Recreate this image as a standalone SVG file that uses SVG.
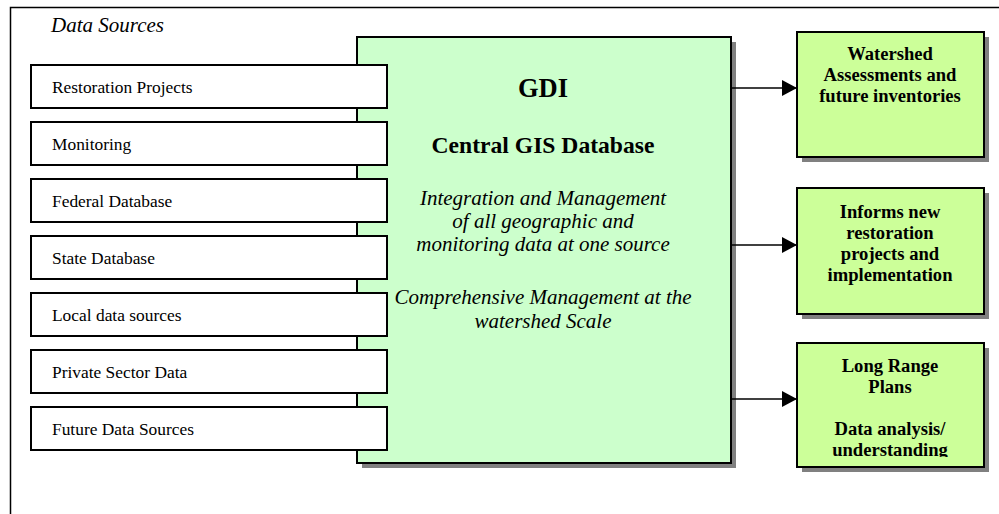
<svg xmlns="http://www.w3.org/2000/svg" width="999" height="514" viewBox="0 0 999 514">
<style>
.frame{fill:none;stroke:#000;stroke-width:1.5}
.src{fill:#fff;stroke:#000;stroke-width:2}
.srct{font-family:"Liberation Serif",serif;font-size:17.4px;fill:#000}
.main{fill:#CCFFCC;stroke:#000;stroke-width:2}
.out{fill:#CCFF99;stroke:#000;stroke-width:2}
.sh{fill:#808080}
.b{font-family:"Liberation Serif",serif;font-weight:bold;fill:#000;text-anchor:middle}
.i{font-family:"Liberation Serif",serif;font-style:italic;fill:#000}
.conn{stroke:#000;stroke-width:1.5;fill:none}
</style>
<defs>
<marker id="ah" viewBox="0 0 15 16" refX="15" refY="8" markerWidth="15" markerHeight="16" markerUnits="userSpaceOnUse" orient="auto">
<path d="M0,0 L15,8 L0,16 Z" fill="#000"/>
</marker>
<clipPath id="c3"><rect x="797" y="343" width="187" height="114"/></clipPath>
</defs>
<rect width="999" height="514" fill="#fff"/>
<path class="frame" d="M10.5,514 V7.5 H999"/>
<text class="i" x="51" y="32" font-size="21">Data Sources</text>

<g id="gdi">
<rect class="sh" x="362" y="42" width="374" height="426"/>
<rect class="main" x="357" y="37" width="374" height="426"/>
<text class="b" x="543" y="97" font-size="26.5">GDI</text>
<text class="b" x="543" y="153" font-size="23.6">Central GIS Database</text>
<g class="i" font-size="21" text-anchor="middle">
<text x="543" y="205">Integration and Management</text>
<text x="543" y="228">of all geographic and</text>
<text x="543" y="251">monitoring data at one source</text>
<text x="543" y="304">Comprehensive Management at the</text>
<text x="543" y="328">watershed Scale</text>
</g>
</g>

<g id="src1"><rect class="src" x="31" y="65" width="356" height="43"/><text class="srct" x="52" y="93">Restoration Projects</text></g>
<g id="src2"><rect class="src" x="31" y="122" width="356" height="43"/><text class="srct" x="52" y="150">Monitoring</text></g>
<g id="src3"><rect class="src" x="31" y="179" width="356" height="43"/><text class="srct" x="52" y="207">Federal Database</text></g>
<g id="src4"><rect class="src" x="31" y="236" width="356" height="43"/><text class="srct" x="52" y="264">State Database</text></g>
<g id="src5"><rect class="src" x="31" y="293" width="356" height="43"/><text class="srct" x="52" y="321">Local data sources</text></g>
<g id="src6"><rect class="src" x="31" y="350" width="356" height="43"/><text class="srct" x="52" y="378">Private Sector Data</text></g>
<g id="src7"><rect class="src" x="31" y="407" width="356" height="43"/><text class="srct" x="52" y="435">Future Data Sources</text></g>

<g id="out1">
<rect class="sh" x="802" y="37" width="187" height="125"/>
<rect class="out" x="797" y="32" width="187" height="125"/>
<g class="b" font-size="18.6">
<text x="890" y="60">Watershed</text>
<text x="890" y="81">Assessments and</text>
<text x="890" y="102">future inventories</text>
</g>
</g>
<g id="out2">
<rect class="sh" x="802" y="193" width="187" height="126"/>
<rect class="out" x="797" y="188" width="187" height="126"/>
<g class="b" font-size="18.6">
<text x="890" y="218">Informs new</text>
<text x="890" y="239">restoration</text>
<text x="890" y="260">projects and</text>
<text x="890" y="281">implementation</text>
</g>
</g>
<g id="out3">
<rect class="sh" x="802" y="348" width="187" height="124"/>
<rect class="out" x="797" y="343" width="187" height="124"/>
<g class="b" font-size="18.6" clip-path="url(#c3)">
<text x="890" y="372">Long Range</text>
<text x="890" y="393">Plans</text>
<text x="890" y="435">Data analysis/</text>
<text x="890" y="456">understanding</text>
</g>
</g>

<g id="connectors">
<line class="conn" x1="731" y1="88" x2="797" y2="88" marker-end="url(#ah)"/>
<line class="conn" x1="731" y1="245" x2="797" y2="245" marker-end="url(#ah)"/>
<line class="conn" x1="731" y1="399" x2="797" y2="399" marker-end="url(#ah)"/>
</g>
</svg>
